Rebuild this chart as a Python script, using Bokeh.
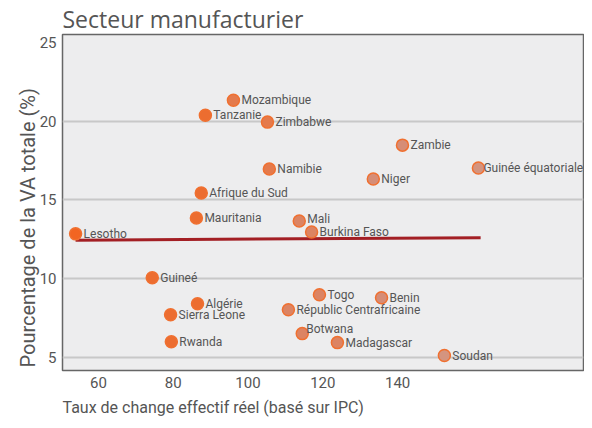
from bokeh.plotting import figure
from bokeh.models import ColumnDataSource, FixedTicker, Range1d, Title, LinearColorMapper
from bokeh.core.properties import value
from bokeh.embed import file_html
from bokeh.resources import INLINE

# ---- data ----
countries = ["Lesotho", "Mozambique", "Tanzanie", "Zimbabwe", "Zambie", "Namibie",
             "Guinée équatoriale", "Niger", "Afrique du Sud", "Mauritania", "Mali",
             "Burkina Faso", "Guineé", "Togo", "Benin", "Algérie",
             "Républic Centrafricaine", "Sierra Leone", "Botwana", "Rwanda",
             "Madagascar", "Soudan"]
reer = [53.9, 96.1, 88.6, 105.2, 141.3, 105.7,
        161.6, 133.5, 87.5, 86.2, 113.7,
        117.0, 74.4, 119.1, 135.7, 86.5,
        110.8, 79.3, 114.5, 79.5,
        123.9, 152.5]
va_share = [12.85, 21.33, 20.38, 19.94, 18.48, 16.96,
            17.03, 16.33, 15.44, 13.86, 13.67,
            12.97, 10.06, 8.99, 8.80, 8.42,
            8.04, 7.72, 6.52, 6.01,
            5.95, 5.13]
trend_x = [53.9, 162.2]
trend_y = [12.45, 12.60]
x_ticks = [60, 80, 100, 120, 140]
y_ticks = [5, 10, 15, 20, 25]
grid_ticks = [5, 10, 15, 20]

# ---- style ----
FONT = "Roboto"
TXT = "#555555"
label_nudge = {"Botwana": (-4, -5), "Mali": (0, -2), "Guinée équatoriale": (-3, 0)}
dx = [8 + label_nudge.get(c, (0, 0))[0] for c in countries]
dy = [label_nudge.get(c, (0, 0))[1] for c in countries]

src = ColumnDataSource(dict(x=reer, y=va_share, name=countries, dx=dx, dy=dy))

p = figure(frame_width=521, frame_height=336, output_backend="svg", toolbar_location=None,
           x_range=Range1d(50.4, 189.7), y_range=Range1d(4.18, 25.5),
           min_border_left=62, min_border_right=1, min_border_top=26,
           min_border_bottom=50)

p.title.text = "Secteur manufacturier"
p.title.text_font = "Open Sans"
p.title.text_font_size = "23px"
p.title.text_font_style = "normal"
p.title.text_color = TXT
p.title.standoff = 0
p.title.offset = 0

p.background_fill_color = "#ededee"
p.border_fill_color = "white"
p.outline_line_color = "#666666"
p.outline_line_width = 1.5

p.xgrid.grid_line_color = None
p.ygrid.ticker = FixedTicker(ticks=grid_ticks)
p.ygrid.grid_line_color = "#c8c8c8"
p.ygrid.grid_line_width = 2

p.xaxis.ticker = FixedTicker(ticks=x_ticks)
p.yaxis.ticker = FixedTicker(ticks=y_ticks)
for ax in (p.xaxis[0], p.yaxis[0]):
    ax.axis_line_color = None
    ax.major_tick_line_color = None
    ax.minor_tick_line_color = None
    ax.major_tick_out = 0
    ax.major_tick_in = 0
    ax.major_label_text_font = FONT
    ax.major_label_text_font_size = "15px"
    ax.major_label_text_color = TXT
    ax.major_label_standoff = 6

p.add_layout(Title(text="Pourcentage de la VA totale (%)", align="left",
                   text_font=FONT, text_font_size="20px", text_font_style="normal",
                   text_color=TXT, standoff=-7, offset=3), "left")

p.add_layout(Title(text="Taux de change effectif réel (basé sur IPC)", align="left",
                   text_font=FONT, text_font_size="16px", text_font_style="normal",
                   text_color=TXT, standoff=11, offset=0), "below")

# trend line
p.line(trend_x, trend_y, line_color="#a31f24", line_width=3)

# points
mapper = LinearColorMapper(palette=["#f26522", "#ec6d30", "#e47a4c", "#dc8463", "#d68d76", "#d4947f"],
                           low=55, high=162)
p.scatter("x", "y", source=src, size=12, fill_color={"field": "x", "transform": mapper},
          line_color="#f07030", line_width=1.5)

p.text("x", "y", text="name", source=src, x_offset="dx", y_offset="dy",
       text_font=value(FONT), text_font_size="12px", text_color=TXT,
       text_baseline="middle", text_align="left")

open("out.html", "w").write(file_html(p, INLINE))
